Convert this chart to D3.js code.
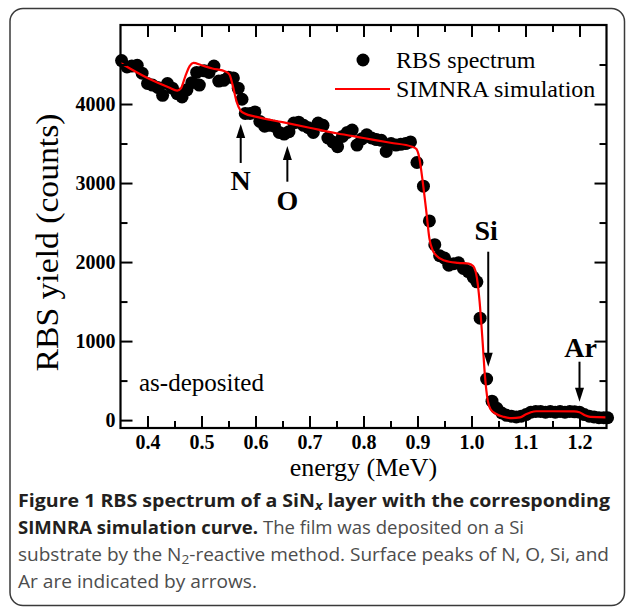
<!DOCTYPE html>
<html><head><meta charset="utf-8">
<script src="https://cdn.jsdelivr.net/npm/d3@7"></script>
<style>
html,body{margin:0;padding:0;background:#fff;}
svg{display:block;}
</style></head>
<body>
<svg id="chart" width="627" height="610"></svg>
<script>
// ---- data ----
const rbsEnergy = [0.352,0.362,0.371,0.381,0.390,0.400,0.409,0.419,0.428,0.437,0.446,0.455,0.464,0.473,0.482,0.491,0.496,0.505,0.514,0.523,0.532,0.541,0.550,0.559,0.568,0.575,0.581,0.590,0.599,0.608,0.617,0.626,0.635,0.644,0.653,0.662,0.671,0.680,0.689,0.698,0.707,0.716,0.725,0.734,0.743,0.752,0.761,0.770,0.779,0.788,0.797,0.806,0.815,0.824,0.833,0.842,0.851,0.860,0.869,0.878,0.887,0.899,0.911,0.922,0.932,0.941,0.950,0.958,0.967,0.976,0.985,0.994,1.003,1.010,1.016,1.028,1.038,1.047,1.056,1.065,1.074,1.083,1.092,1.101,1.110,1.119,1.128,1.137,1.146,1.155,1.164,1.173,1.182,1.191,1.200,1.209,1.218,1.227,1.236,1.245,1.252];
const rbsCounts = [4550,4470,4480,4490,4390,4260,4240,4210,4110,4260,4200,4130,4090,4180,4270,4400,4240,4420,4400,4480,4290,4300,4340,4330,4200,4060,3880,3880,3900,3780,3720,3730,3720,3640,3620,3650,3760,3770,3730,3700,3640,3760,3730,3570,3520,3460,3590,3640,3670,3480,3560,3610,3570,3550,3540,3400,3500,3480,3490,3500,3520,3260,2960,2520,2220,2080,2050,1960,1980,1990,1920,1880,1810,1750,1290,520,240,150,90,60,50,40,50,70,100,110,110,100,110,100,110,100,110,105,100,70,50,40,30,30,30];

const simEnergy = [0.350,0.400,0.440,0.455,0.462,0.470,0.478,0.485,0.500,0.520,0.545,0.552,0.558,0.565,0.572,0.580,0.600,0.650,0.700,0.750,0.800,0.850,0.890,0.898,0.903,0.910,0.917,0.922,0.928,0.935,0.950,0.975,0.995,1.003,1.010,1.015,1.020,1.025,1.030,1.035,1.045,1.060,1.075,1.090,1.100,1.110,1.120,1.150,1.190,1.200,1.210,1.220,1.250];
const simCounts = [4520,4330,4210,4170,4200,4350,4480,4520,4490,4450,4410,4370,4230,4030,3920,3880,3840,3770,3700,3630,3570,3510,3460,3430,3330,3000,2600,2300,2150,2080,2020,1990,1980,1950,1800,1500,1050,550,250,140,80,40,25,35,70,100,112,112,110,100,60,40,35];

const xMajorTicks = [0.4,0.5,0.6,0.7,0.8,0.9,1.0,1.1,1.2];
const xMinorTicks = [0.45,0.55,0.65,0.75,0.85,0.95,1.05,1.15];
const yMajorTicks = [0,1000,2000,3000,4000];
const yMinorTicks = [500,1500,2500,3500,4500];

const legendLabels = ["RBS spectrum","SIMNRA simulation"];
const xTitle = "energy (MeV)";
const yTitle = "RBS yield (counts)";
const note = "as-deposited";
const peakLabels = ["N","O","Si","Ar"];
const peakEnergy = [0.5726,0.659,1.031,1.200];

// ---- drawing ----
const svg = d3.select("#chart");
const L=120.5, R=606.5, T=25, B=428;
const x = d3.scaleLinear().domain([0.35,1.25]).range([L,R]);
const y = d3.scaleLinear().domain([-100,5000]).range([B,T]);

// outer frame
svg.append("rect").attr("x",10).attr("y",8.5).attr("width",614.5).attr("height",597)
  .attr("rx",13).attr("fill","none").attr("stroke","#3a3a3a").attr("stroke-width",1.5);

const serif = "'Liberation Serif','Times New Roman',Times,serif";

// data points
const pts = rbsEnergy.map((e,i)=>({e, c:rbsCounts[i]}));
svg.append("g").selectAll("circle").data(pts).join("circle")
  .attr("cx",d=>x(d.e)).attr("cy",d=>y(d.c)).attr("r",6.5).attr("fill","#000");

// simulation curve
const sim = simEnergy.map((e,i)=>({e, c:simCounts[i]}));
svg.append("path").datum(sim)
  .attr("d", d3.line().x(d=>x(d.e)).y(d=>y(d.c)).curve(d3.curveMonotoneX))
  .attr("fill","none").attr("stroke","#ff0000").attr("stroke-width",2.2);

// axes
function styleAxis(g){
  g.select(".domain").remove();
  g.selectAll(".tick line").attr("stroke","#000").attr("stroke-width",2);
  g.selectAll("text").attr("font-family",serif).attr("font-weight","bold").attr("font-size",20).attr("fill","#000");
}
svg.append("g").attr("transform",`translate(0,${B})`)
  .call(d3.axisBottom(x).tickValues(xMajorTicks).tickSizeInner(-12).tickSizeOuter(0).tickPadding(7).tickFormat(d3.format(".1f"))).call(styleAxis);
svg.append("g").attr("transform",`translate(0,${B})`)
  .call(d3.axisBottom(x).tickValues(xMinorTicks).tickSizeInner(-7).tickSizeOuter(0).tickFormat("")).call(styleAxis);
svg.append("g").attr("transform",`translate(0,${T})`)
  .call(d3.axisTop(x).tickValues(xMajorTicks).tickSizeInner(-12).tickSizeOuter(0).tickFormat("")).call(styleAxis);
svg.append("g").attr("transform",`translate(0,${T})`)
  .call(d3.axisTop(x).tickValues(xMinorTicks).tickSizeInner(-7).tickSizeOuter(0).tickFormat("")).call(styleAxis);
svg.append("g").attr("transform",`translate(${L},0)`)
  .call(d3.axisLeft(y).tickValues(yMajorTicks).tickSizeInner(-12).tickSizeOuter(0).tickPadding(5).tickFormat(d3.format("d"))).call(styleAxis);
svg.append("g").attr("transform",`translate(${L},0)`)
  .call(d3.axisLeft(y).tickValues(yMinorTicks).tickSizeInner(-7).tickSizeOuter(0).tickFormat("")).call(styleAxis);
svg.append("g").attr("transform",`translate(${R},0)`)
  .call(d3.axisRight(y).tickValues(yMajorTicks).tickSizeInner(-12).tickSizeOuter(0).tickFormat("")).call(styleAxis);
svg.append("g").attr("transform",`translate(${R},0)`)
  .call(d3.axisRight(y).tickValues(yMinorTicks).tickSizeInner(-7).tickSizeOuter(0).tickFormat("")).call(styleAxis);

// plot frame
svg.append("rect").attr("x",L).attr("y",T).attr("width",R-L).attr("height",B-T)
  .attr("fill","none").attr("stroke","#000").attr("stroke-width",2.2);

// axis titles
svg.append("text").attr("x",(L+R)/2).attr("y",476).attr("text-anchor","middle")
  .attr("font-family",serif).attr("font-size",26).text(xTitle);
svg.append("text").attr("transform",`translate(58,${(T+B)/2+16}) rotate(-90)`).attr("text-anchor","middle")
  .attr("font-family",serif).attr("font-size",31).attr("textLength",258).attr("lengthAdjust","spacingAndGlyphs").text(yTitle);

// legend
svg.append("circle").attr("cx",363).attr("cy",60).attr("r",6.5).attr("fill","#000");
svg.append("text").attr("x",396).attr("y",68).attr("font-family",serif).attr("font-size",24).text(legendLabels[0]);
svg.append("line").attr("x1",335).attr("x2",390).attr("y1",89).attr("y2",89).attr("stroke","#ff0000").attr("stroke-width",2.2);
svg.append("text").attr("x",396).attr("y",97).attr("font-family",serif).attr("font-size",24).text(legendLabels[1]);

// note
svg.append("text").attr("x",139).attr("y",391).attr("font-family",serif).attr("font-size",25).text(note);

// peak arrows
const arrowSpec = [
  {i:0, text:2912, tail:3254, tip:3747},
  {i:1, text:2659, tail:3017, tip:3469},
  {i:2, text:2279, tail:2131, tip:676},
  {i:3, text:802,  tail:739,  tip:233}
];
const ag = svg.append("g");
arrowSpec.forEach(s=>{
  const px = x(peakEnergy[s.i]);
  const yTail = y(s.tail), yTip = y(s.tip);
  const dir = yTip < yTail ? -1 : 1;
  const headLen = 14, headW = 4.5;
  ag.append("line").attr("x1",px).attr("x2",px).attr("y1",yTail).attr("y2",yTip - dir*headLen*0.6)
    .attr("stroke","#000").attr("stroke-width",2);
  ag.append("path").attr("d",`M${px},${yTip} L${px-headW},${yTip-dir*headLen} L${px+headW},${yTip-dir*headLen} Z`).attr("fill","#000");
  ag.append("text").attr("x",px-(s.i===2?2:(s.i===3?-1:0))).attr("y",y(s.text)).attr("text-anchor","middle")
    .attr("font-family",serif).attr("font-weight","bold").attr("font-size",28).text(peakLabels[s.i]);
});

// caption
const capFont = "'Open Sans','Noto Sans',Lato,sans-serif";
const cap = svg.append("g").attr("font-family",capFont).attr("font-size",17.5);
const bold = "#231f20", reg = "#4d4d4d";
function capLine(yy, len){
  return cap.append("text").attr("x",18).attr("y",yy).attr("textLength",len).attr("lengthAdjust","spacingAndGlyphs");
}
const t1 = capLine(507, 592);
t1.append("tspan").attr("font-weight","bold").attr("fill",bold).text("Figure 1 RBS spectrum of a SiN");
t1.append("tspan").attr("font-weight","bold").attr("font-style","italic").attr("fill",bold).attr("font-size","0.72em").attr("dy",3).text("x");
t1.append("tspan").attr("font-weight","bold").attr("fill",bold).attr("dy",-3).text(" layer with the corresponding");
const t2 = capLine(534, 506);
t2.append("tspan").attr("font-weight","bold").attr("fill",bold).text("SIMNRA simulation curve.");
t2.append("tspan").attr("fill",reg).text(" The film was deposited on a Si");
const t3 = capLine(561, 591);
t3.append("tspan").attr("fill",reg).text("substrate by the N");
t3.append("tspan").attr("fill",reg).attr("font-size","0.72em").attr("dy",3).text("2");
t3.append("tspan").attr("fill",reg).attr("dy",-3).text("-reactive method. Surface peaks of N, O, Si, and");
const t4 = capLine(588, 239);
t4.append("tspan").attr("fill",reg).text("Ar are indicated by arrows.");
</script>
</body></html>
